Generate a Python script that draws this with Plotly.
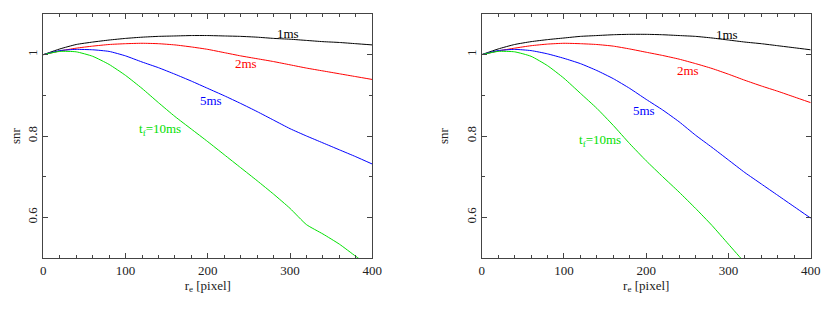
import plotly.graph_objects as go

# radius r_e [pixel]
r = [0, 20, 40, 60, 80, 100, 120, 140, 160, 180, 200, 220, 240, 260, 280, 300, 320, 340, 360, 380, 400]

# left panel
snr_1ms_L = [1.000, 1.014, 1.025, 1.031, 1.036, 1.040, 1.043, 1.045, 1.046, 1.047, 1.047, 1.046, 1.045, 1.043, 1.040, 1.038, 1.035, 1.032, 1.030, 1.027, 1.024]
snr_2ms_L = [1.000, 1.009, 1.016, 1.021, 1.025, 1.027, 1.028, 1.027, 1.024, 1.019, 1.013, 1.005, 0.997, 0.990, 0.983, 0.975, 0.967, 0.960, 0.953, 0.946, 0.939]
snr_5ms_L = [1.000, 1.010, 1.013, 1.012, 1.008, 0.997, 0.982, 0.968, 0.952, 0.935, 0.917, 0.899, 0.880, 0.860, 0.839, 0.818, 0.800, 0.783, 0.766, 0.749, 0.731]
snr_10ms_L = [1.000, 1.008, 1.007, 0.996, 0.976, 0.949, 0.917, 0.882, 0.848, 0.817, 0.786, 0.754, 0.722, 0.690, 0.657, 0.622, 0.582, 0.559, 0.534, 0.504, 0.475]

# right panel
snr_1ms_R = [1.000, 1.014, 1.025, 1.032, 1.037, 1.041, 1.045, 1.047, 1.049, 1.050, 1.050, 1.049, 1.047, 1.045, 1.041, 1.036, 1.031, 1.027, 1.022, 1.017, 1.012]
snr_2ms_R = [1.000, 1.009, 1.016, 1.022, 1.026, 1.028, 1.027, 1.025, 1.021, 1.014, 1.006, 0.998, 0.989, 0.978, 0.966, 0.952, 0.937, 0.923, 0.910, 0.896, 0.882]
snr_5ms_R = [1.000, 1.010, 1.013, 1.010, 1.002, 0.991, 0.978, 0.961, 0.941, 0.917, 0.890, 0.864, 0.835, 0.802, 0.772, 0.741, 0.710, 0.682, 0.654, 0.626, 0.598]
snr_10ms_R = [1.000, 1.008, 1.007, 0.996, 0.973, 0.942, 0.905, 0.868, 0.826, 0.781, 0.739, 0.700, 0.662, 0.622, 0.580, 0.534, 0.488, 0.440, 0.392, 0.344, 0.296]

labels = ["1ms", "2ms", "5ms", "t<sub>f</sub>=10ms"]
colors = ["#000000", "#ff0000", "#0000ff", "#00e000"]
label_pos_L = [(297, 1.052), (246, 0.9775), (204, 0.888), (142, 0.816)]
label_pos_R = [(298, 1.0497), (251, 0.961), (197, 0.8636), (144, 0.788)]

y_ticks = [0.6, 0.8, 1.0]
y_ticktext = ["0.6", "0.8", "1"]
x_ticks = [0, 100, 200, 300, 400]

FONT = "Liberation Serif"

fig = go.Figure()
panels = [
    ("x", "y", [snr_1ms_L, snr_2ms_L, snr_5ms_L, snr_10ms_L], label_pos_L),
    ("x2", "y2", [snr_1ms_R, snr_2ms_R, snr_5ms_R, snr_10ms_R], label_pos_R),
]
for xa, ya, series, lpos in panels:
    for s, c, lab, (lx, ly) in zip(series, colors, labels, lpos):
        fig.add_trace(go.Scatter(x=r, y=s, mode="lines",
                                 line=dict(color=c, width=1, shape="spline", smoothing=0.5),
                                 xaxis=xa, yaxis=ya, showlegend=False, hoverinfo="skip"))
        fig.add_annotation(x=lx, y=ly, xref=xa, yref=ya, text=lab, showarrow=False,
                           font=dict(family=FONT, size=13, color=c),
                           xanchor="center", yanchor="middle")

axis_common = dict(
    showline=True, linecolor="#444", linewidth=1, mirror="ticks",
    ticks="inside", ticklen=5, tickcolor="#444", tickwidth=1,
    showgrid=False, zeroline=False, automargin=False,
    tickfont=dict(family=FONT, size=13, color="#222"),
)
xaxis_extra = dict(range=[0, 400], tickvals=x_ticks,
                   minor=dict(dtick=20, tick0=0, ticks="inside", ticklen=3, tickcolor="#444"),
                   title=dict(text="r<sub>e</sub> [pixel]", font=dict(family=FONT, size=13, color="#222"), standoff=3))
yaxis_extra = dict(range=[0.5, 1.1], tickvals=y_ticks, ticktext=y_ticktext, tickangle=-90,
                   minor=dict(dtick=0.1, tick0=0.5, ticks="inside", ticklen=3, tickcolor="#444"),
                   title=dict(text="snr", font=dict(family=FONT, size=13, color="#222"), standoff=11))

# page body has an 8px margin; figure is sized to fit the window
W, H, OFF = 822, 303, 8
ydom = [1 - (258 - OFF) / H, 1 - (14 - OFF) / H]
fig.update_layout(
    width=W, height=H,
    margin=dict(l=0, r=0, t=0, b=0, autoexpand=False),
    paper_bgcolor="white", plot_bgcolor="white",
    xaxis=dict(domain=[(43.3 - OFF) / W, (372.3 - OFF) / W], anchor="y", **axis_common, **xaxis_extra),
    yaxis=dict(domain=ydom, anchor="x", **axis_common, **yaxis_extra),
    xaxis2=dict(domain=[(481.7 - OFF) / W, (810.7 - OFF) / W], anchor="y2", **axis_common, **xaxis_extra),
    yaxis2=dict(domain=ydom, anchor="x2", **axis_common, **yaxis_extra),
)

fig.write_html("out.html")
